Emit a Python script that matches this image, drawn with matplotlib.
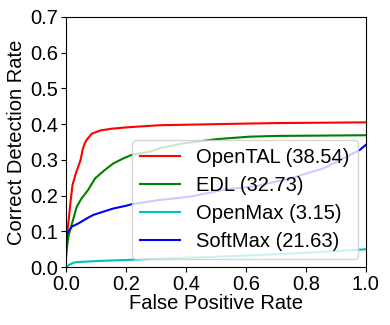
import matplotlib
matplotlib.use("Agg")
import matplotlib.pyplot as plt

plt.rcParams['font.family'] = ['Liberation Sans', 'DejaVu Sans']

# OpenTAL
opental_fpr = [0.0, 0.002, 0.008, 0.015, 0.022, 0.033, 0.049, 0.056, 0.063, 0.069, 0.086, 0.113, 0.15, 0.202, 0.313, 0.5, 0.7, 1.0]
opental_tpr = [0.05, 0.08, 0.122, 0.18, 0.23, 0.262, 0.30, 0.33, 0.346, 0.356, 0.373, 0.382, 0.387, 0.391, 0.397, 0.400, 0.403, 0.405]
# EDL
edl_fpr = [0.0, 0.003, 0.008, 0.019, 0.036, 0.052, 0.074, 0.097, 0.13, 0.158, 0.191, 0.219, 0.28, 0.313, 0.391, 0.502, 0.613, 0.7, 1.0]
edl_tpr = [0.02, 0.05, 0.085, 0.118, 0.169, 0.192, 0.216, 0.248, 0.272, 0.29, 0.304, 0.314, 0.323, 0.333, 0.346, 0.358, 0.365, 0.367, 0.369]
# OpenMax
openmax_fpr = [0.0, 0.01, 0.024, 0.036, 0.1, 0.2, 0.313, 0.5, 0.647, 0.8, 0.98, 1.0]
openmax_tpr = [0.0, 0.006, 0.012, 0.014, 0.017, 0.020, 0.024, 0.029, 0.034, 0.040, 0.049, 0.050]
# SoftMax
softmax_fpr = [0.0, 0.004, 0.019, 0.041, 0.069, 0.091, 0.124, 0.158, 0.202, 0.219, 0.313, 0.413, 0.523, 0.636, 0.747, 0.858, 0.936, 0.98, 1.0]
softmax_tpr = [0.06, 0.094, 0.113, 0.122, 0.136, 0.146, 0.155, 0.164, 0.172, 0.176, 0.188, 0.197, 0.216, 0.227, 0.248, 0.276, 0.309, 0.328, 0.342]

labels = ['OpenTAL (38.54)', 'EDL (32.73)', 'OpenMax (3.15)', 'SoftMax (21.63)']
xticks = [0.0, 0.2, 0.4, 0.6, 0.8, 1.0]
yticks = [0.0, 0.1, 0.2, 0.3, 0.4, 0.5, 0.6, 0.7]

fig = plt.figure(figsize=(3.9, 3.25), dpi=100)
ax = fig.add_axes([0.169, 0.178, 0.769, 0.770])
fs = 14.5
ax.plot(opental_fpr, opental_tpr, color='r', lw=1.5, label=labels[0])
ax.plot(edl_fpr, edl_tpr, color='g', lw=1.5, label=labels[1])
ax.plot(openmax_fpr, openmax_tpr, color='c', lw=1.5, label=labels[2])
ax.plot(softmax_fpr, softmax_tpr, color='b', lw=1.5, label=labels[3])
ax.set_xlim(0, 1)
ax.set_ylim(0, 0.7)
ax.set_xticks(xticks)
ax.set_yticks(yticks)
ax.set_xticklabels([f"{t:.1f}" for t in xticks], fontsize=fs)
ax.set_yticklabels([f"{t:.1f}" for t in yticks], fontsize=fs)
ax.tick_params(pad=2)
ax.set_xlabel('False Positive Rate', fontsize=fs, labelpad=0)
ax.set_ylabel('Correct Detection Rate', fontsize=fs, labelpad=3)
ax.legend(loc='lower right', fontsize=14.5, borderaxespad=0.4, labelspacing=0.45)
fig.savefig('out.png', dpi=100)
